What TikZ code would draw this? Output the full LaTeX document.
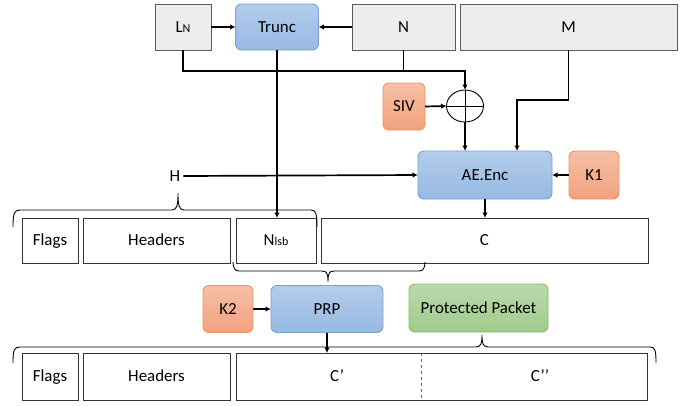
\documentclass[tikz,border=0pt]{standalone}
\usepackage{fontspec}
\setmainfont{Carlito}
\usetikzlibrary{arrows.meta,shapes.geometric}
\definecolor{blueT}{HTML}{B3CDEB}
\definecolor{blueB}{HTML}{97B9E3}
\definecolor{blueD}{HTML}{75A2D8}
\definecolor{orT}{HTML}{F5C0A7}
\definecolor{orB}{HTML}{F3A17C}
\definecolor{orD}{HTML}{EE9460}
\definecolor{grT}{HTML}{BADAAC}
\definecolor{grB}{HTML}{A0CC8C}
\definecolor{grD}{HTML}{86BA6A}
\definecolor{greyF}{HTML}{EDEDED}
\definecolor{greyD}{HTML}{5A5A5A}
\begin{document}
\begin{tikzpicture}[x=1pt,y=-1pt,
  every node/.style={font=\fontsize{16.9}{20}\selectfont, outer sep=0pt, inner sep=0pt, text height=14pt, text depth=3.1pt},
  greybox/.style={draw=greyD, fill=greyF, line width=0.9pt, minimum height=46pt},
  whitebox/.style={draw=black!80, fill=white, line width=0.9pt},
  bluebox/.style={draw=blueD, top color=blueT, bottom color=blueB, rounded corners=6pt, line width=0.9pt},
  orbox/.style={draw=orD, top color=orT, bottom color=orB, rounded corners=6pt, line width=0.9pt, minimum width=50pt, minimum height=47pt},
  grbox/.style={draw=grD, top color=grT, bottom color=grB, rounded corners=6pt, line width=0.9pt},
  conn/.style={line width=1.7pt, black},
  arr/.style={conn, -{Latex[length=5.5pt,width=5.5pt]}},
  brace/.style={line width=0.9pt, black}
]
\useasboundingbox (0,0) rectangle (694,405);

% top row
\node[greybox, minimum width=56pt] (LN) at (183,27) {L{\fontsize{12}{12}\selectfont N}};
\node[bluebox, minimum width=83pt, minimum height=46pt] (Trunc) at (277,27) {Trunc};
\node[greybox, minimum width=103pt] (N) at (403.5,27) {N};
\node[greybox, minimum width=217pt] (M) at (568.5,27) {M};

% SIV and xor
\node[orbox, minimum width=42pt] (SIV) at (404,106.5) {SIV};
\node[draw=black, line width=0.9pt, ellipse, minimum width=37pt, minimum height=32pt, text height=0pt, text depth=0pt] (xor) at (465,106) {};
\draw[line width=0.9pt] (xor.north) -- (xor.south) (xor.west) -- (xor.east);

% AE.Enc and K1
\node[bluebox, minimum width=134pt, minimum height=48pt] (AE) at (485,175) {AE.Enc};
\node[orbox, minimum height=48pt] (K1) at (594,175) {K1};
\node (H) at (175,176) {H};

% row 1
\node[whitebox, minimum width=56pt, minimum height=45pt] (F1) at (50,240.5) {Flags};
\node[whitebox, minimum width=147pt, minimum height=45pt] (H1) at (156.5,240.5) {Headers};
\node[whitebox, minimum width=80pt, minimum height=45pt] (Nlsb) at (276,240.5) {N{\fontsize{12}{12}\selectfont lsb}};
\node[whitebox, minimum width=327pt, minimum height=45pt] (C) at (484.5,240.5) {C};

% middle
\node[orbox] (K2) at (228,309) {K2};
\node[bluebox, minimum width=112pt, minimum height=47pt] (PRP) at (327,309) {PRP};
\node[grbox, minimum width=139pt, minimum height=48pt] (PP) at (478.5,308) {Protected Packet};

% row 2
\node[whitebox, minimum width=56pt, minimum height=47pt] (F2) at (50,376.5) {Flags};
\node[whitebox, minimum width=147pt, minimum height=47pt] (H2) at (156.5,376.5) {Headers};
\node[whitebox, minimum width=411pt, minimum height=47pt] (CC) at (441.5,376.5) {};
\draw[dashed, line width=0.9pt, black!60] (CC.north -| 421,0) -- (CC.south -| 421,0);
\node (Cp) at (337,376.5) {C’};
\node (Cpp) at (540,376.5) {C’’};

% connectors
\draw[arr] (LN.east) -- (Trunc.west);
\draw[arr] (N.west) -- (Trunc.east);
\draw[arr] (LN.south) -- ++(0,21) -| (xor.north);
\draw[conn] (N.south) -- ++(0,21);
\draw[arr] (SIV.east) -- (xor.west);
\draw[arr] (xor.south) -- (xor.south |- AE.north);
\draw[arr] (M.south) -- ++(0,50) -| ([xshift=32pt]AE.north);
\draw[arr] (H.east) ++(3pt,0) -- (AE.west);
\draw[arr] (K1.west) -- (AE.east);
\draw[arr] (AE.south) -- (AE.south |- C.north);
\draw[arr] (Trunc.south) -- (Trunc.south |- Nlsb.north);
\draw[arr] (K2.east) -- (PRP.west);
\draw[arr] (PRP.south) -- (PRP.south |- CC.north);

% braces
\draw[brace] (13,227) .. controls (13,214) and (14,210) .. (20,210) -- (172,210)
  .. controls (177,210) and (178,205) .. (178,193)
  .. controls (178,205) and (179,210) .. (184,210) -- (311,210)
  .. controls (316,210) and (317,214) .. (317,227);
\draw[brace] (233,262) .. controls (233,268) and (235,271) .. (239,271) -- (322,271)
  .. controls (327,271) and (328,274) .. (328,282)
  .. controls (328,274) and (329,271) .. (334,271) -- (419,271)
  .. controls (423,271) and (425,268) .. (425,262);
\draw[brace] (13,363) .. controls (13,350) and (14,347) .. (20,347) -- (476,347)
  .. controls (481,347) and (482,343) .. (482,335)
  .. controls (482,343) and (483,347) .. (488,347) -- (650,347)
  .. controls (655,347) and (656,350) .. (656,363);
\end{tikzpicture}
\end{document}
